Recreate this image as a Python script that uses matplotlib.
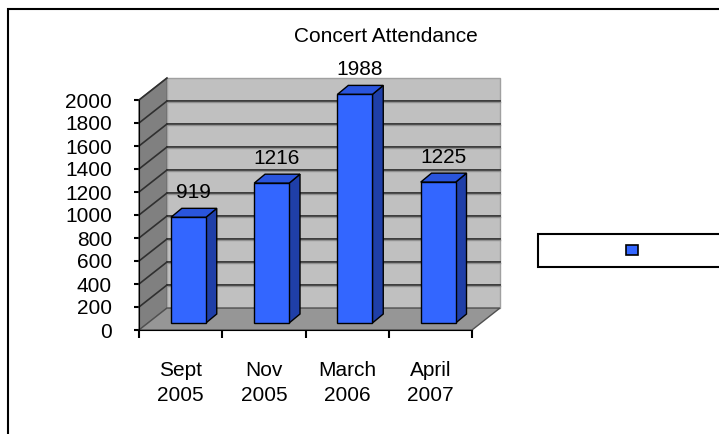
import numpy as np
import matplotlib.pyplot as plt
from matplotlib.patches import Polygon, Rectangle

plt.rcParams['font.family'] = ['Liberation Sans', 'DejaVu Sans']

# -----------------------------
# DATA
# -----------------------------
months = ["Sept\n2005", "Nov\n2005", "March\n2006", "April\n2007"]
attendance = [919, 1216, 1988, 1225]
title = "Concert Attendance"
y_ticks = list(range(0, 2001, 200))

# -----------------------------
# 3D look (offsets in data units)
# -----------------------------
wall_dx, wall_dy = 0.336, 191     # depth of the box
bar_w = 0.42
bar_shift, bar_base = 0.094, 61   # where bars stand inside the box
bar_dx, bar_dy = 0.13, 78         # depth of one bar

c_front = "#3366ff"
c_top = "#2a55dd"
c_side = "#1f3fa8"

fig = plt.figure(figsize=(7.19, 4.34), dpi=100)
W, H = 719, 434
ax = fig.add_axes([139 / W, 104 / H, 333 / W, 230 / H])
ax.set_xlim(0, len(months))
ax.set_ylim(0, 2000)
ax.patch.set_visible(False)

top = y_ticks[-1]
n = len(months)

# side wall, back wall, floor
ax.add_patch(Polygon([(0, 0), (wall_dx, wall_dy), (wall_dx, top + wall_dy), (0, top)],
                     closed=True, fc="#808080", ec="#606060", lw=1, clip_on=False, zorder=1))
ax.add_patch(Polygon([(wall_dx, wall_dy), (n + wall_dx, wall_dy), (n + wall_dx, top + wall_dy),
                      (wall_dx, top + wall_dy)],
                     closed=True, fc="#c0c0c0", ec="#a0a0a0", lw=1, clip_on=False, zorder=1))
ax.add_patch(Polygon([(0, 0), (n, 0), (n + wall_dx, wall_dy), (wall_dx, wall_dy)],
                     closed=True, fc="#969696", ec="#505050", lw=1, clip_on=False, zorder=2))

# gridlines on back and side walls
for v in y_ticks[1:-1]:
    ax.plot([wall_dx, n + wall_dx], [v + wall_dy, v + wall_dy], color="#303030", lw=1.3,
            clip_on=False, zorder=2)
    ax.plot([wall_dx, n + wall_dx], [v + wall_dy - 12, v + wall_dy - 12], color="#909090", lw=1,
            clip_on=False, zorder=2)
for v in y_ticks[1:]:
    ax.plot([0, wall_dx], [v, v + wall_dy], color="#303030", lw=1.2, clip_on=False, zorder=2)

# bars
for i, v in enumerate(attendance):
    x0 = i + 0.5 - bar_w / 2 + bar_shift
    y0 = bar_base
    ax.add_patch(Polygon([(x0 + bar_w, y0), (x0 + bar_w + bar_dx, y0 + bar_dy),
                          (x0 + bar_w + bar_dx, y0 + v + bar_dy), (x0 + bar_w, y0 + v)],
                         closed=True, fc=c_side, ec="black", lw=1, clip_on=False, zorder=3))
    ax.add_patch(Polygon([(x0, y0 + v), (x0 + bar_w, y0 + v), (x0 + bar_w + bar_dx, y0 + v + bar_dy),
                          (x0 + bar_dx, y0 + v + bar_dy)],
                         closed=True, fc=c_top, ec="black", lw=1, clip_on=False, zorder=3))
    ax.add_patch(Rectangle((x0, y0), bar_w, v, fc=c_front, ec="black", lw=1,
                           clip_on=False, zorder=4))
    ax.text(i + 0.5 + bar_shift + 0.06, v + 275, str(v), ha="center", va="center",
            fontsize=15, clip_on=False, zorder=5)

# axes
for s in ["top", "right"]:
    ax.spines[s].set_visible(False)
ax.spines["left"].set_zorder(6)
ax.spines["bottom"].set_zorder(6)
ax.set_yticks(y_ticks)
ax.set_xticks(range(n + 1))
ax.set_xticklabels([])
ax.set_xticks(np.arange(n) + 0.5, minor=True)
ax.set_xticklabels(months, minor=True, fontsize=15, linespacing=1.45)
ax.tick_params(axis="x", which="major", direction="out", length=6, width=1.5)
ax.tick_params(axis="x", which="minor", length=0, pad=22)
ax.tick_params(axis="y", direction="out", length=3.5, width=1.5, labelsize=15, pad=16)

fig.text(386 / W, 1 - 36 / H, title, ha="center", va="center", fontsize=15)

# legend box (series has no name)
fig.patches.append(Rectangle((538 / W, 1 - 267 / H), 200 / W, 33 / H, transform=fig.transFigure,
                             fc="white", ec="black", lw=1.5, figure=fig))
fig.patches.append(Rectangle((626 / W, 1 - 255 / H), 12 / W, 10 / H, transform=fig.transFigure,
                             fc=c_front, ec="black", lw=1.2, figure=fig))

# chart border
fig.patches.append(Rectangle((8 / W, -0.05), 1.1, 1 - 9 / H + 0.05, transform=fig.transFigure,
                             fill=False, ec="black", lw=1.5, figure=fig))

fig.savefig("out.png", dpi=100)
